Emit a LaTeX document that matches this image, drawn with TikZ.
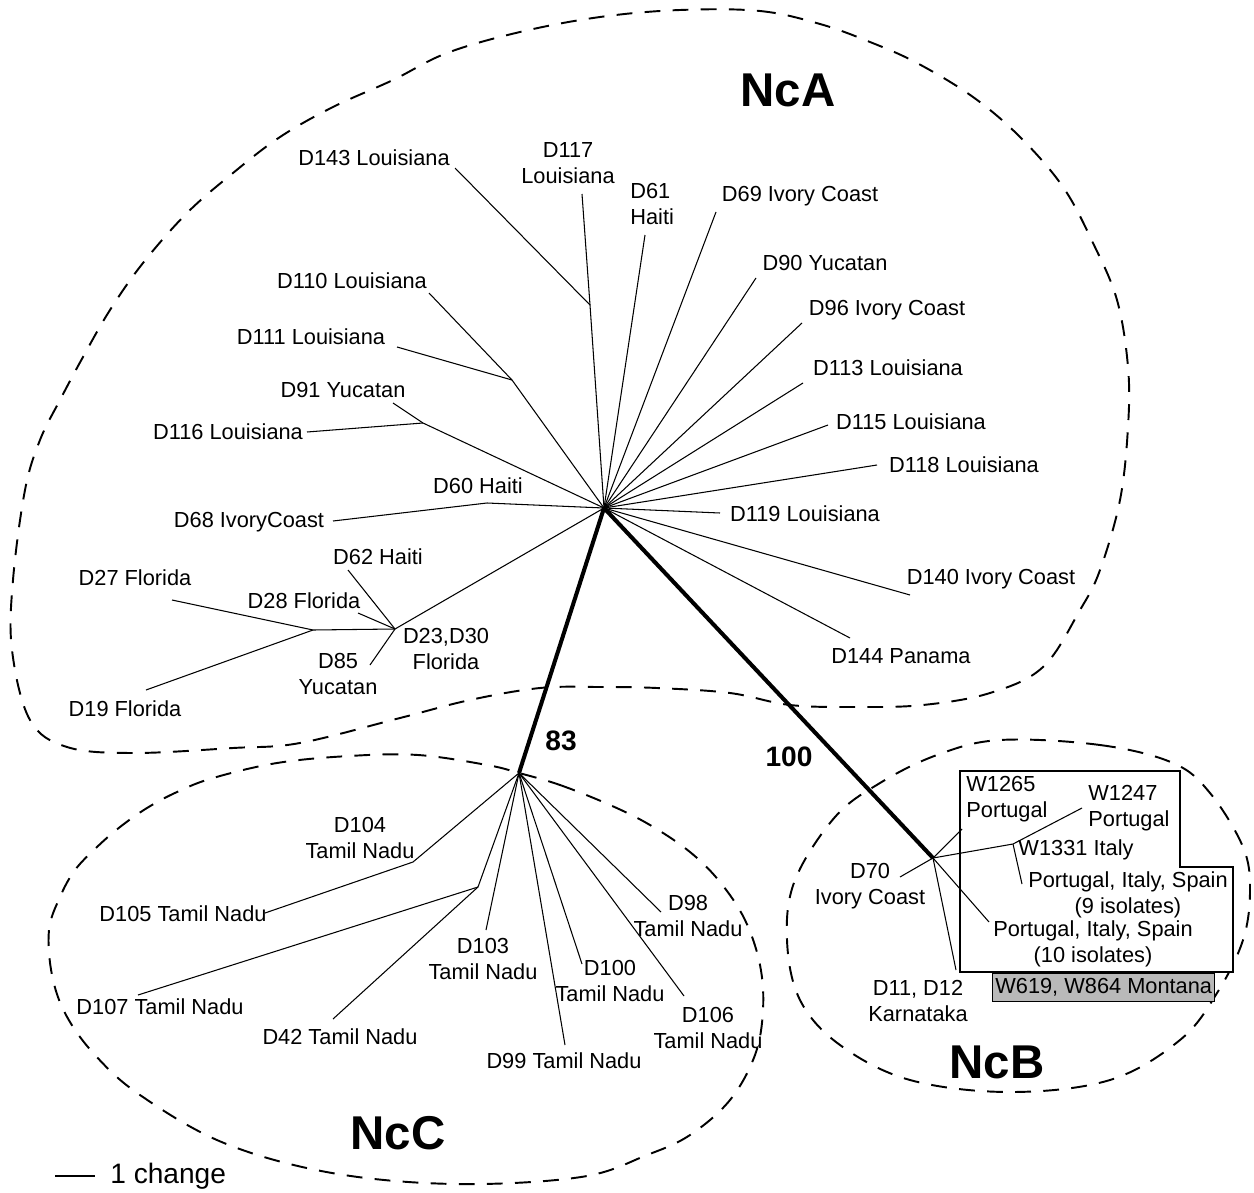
\documentclass[tikz,border=0pt]{standalone}
\usepackage{fontspec}
\setmainfont{Liberation Sans}

\begin{document}
\begin{tikzpicture}[x=0.02cm,y=-0.02cm,
	branch/.style={draw=black, line width=0.6pt},
	trunk/.style={draw=black, line width=2.3pt},
	clade/.style={draw=black, line width=1.1pt, dash pattern=on 9pt off 7pt},
	taxon/.style={font=\fontsize{12.4}{14.8}\selectfont, align=center, inner sep=0pt},
	cladename/.style={font=\fontsize{27}{30}\selectfont\bfseries, inner sep=0pt},
	support/.style={font=\fontsize{16}{18}\selectfont\bfseries, inner sep=0pt}]
	
	%Background
	\path[use as bounding box, fill=white] (0,0) rectangle (1254,1193);
	
	%Clades
	%NcA
	\draw[clade] plot[smooth cycle, tension=0.6] coordinates {(680,10) (760,11) (820,24) (870,42) (917,63) (973,97) (1020,137) (1063,187) (1093,243) (1117,300) (1128,367) (1128,427) (1120,500) (1100,570) (1080,610) (1043,667) (990,693) (923,705) (857,707) (790,705) (730,693) (657,688) (600,687) (540,688) (470,700) (400,718) (300,743) (233,748) (133,753) (67,747) (30,720) (12,650) (13,580) (25,490) (40,440) (60,400) (83,357) (110,310) (143,263) (187,213) (233,173) (280,137) (333,107) (393,80) (447,53) (520,32) (600,17)};
	\node[cladename] (nameA) at (788,90) {NcA};
	
	%NcC
	\draw[clade] plot[smooth cycle, tension=0.6] coordinates {(519,773) (560,785) (610,805) (650,825) (690,852) (720,882) (745,920) (760,965) (763,1010) (755,1055) (730,1100) (690,1135) (647,1155) (581,1177) (456,1184) (332,1173) (224,1143) (140,1095) (95,1055) (66,1015) (52,975) (49,930) (60,897) (75,870) (97,847) (120,827) (147,808) (177,792) (213,778) (277,763) (349,756) (418,755) (487,765)};
	\node[cladename] (nameC) at (398,1133) {NcC};
	
	%NcB
	\draw[clade] plot[smooth cycle, tension=0.6] coordinates {(1000,740) (1100,745) (1173,763) (1210,793) (1243,847) (1250,890) (1243,940) (1217,993) (1180,1040) (1110,1080) (1010,1092) (910,1080) (840,1045) (800,1000) (787,940) (795,880) (835,817) (880,783) (937,755)};
	\node[cladename] (nameB) at (997,1062) {NcB};
	
	%Hubs
	\coordinate (hubA) at (604,508);
	\coordinate (hubC) at (519,773);
	\coordinate (hubB) at (933,858);
	\draw[trunk] (hubA) -- (hubC);
	\draw[trunk] (hubA) -- (hubB);
	\node[support] (boot83) at (561,741) {83};
	\node[support] (boot100) at (789,757) {100};
	
	%Tree A
	\coordinate (nA1) at (590,305);
	\coordinate (nA2) at (512,380);
	\coordinate (nA3) at (423,423);
	\coordinate (nA4) at (487,503);
	\coordinate (nA5) at (395,629);
	\coordinate (nA6) at (313,630);
	
	\coordinate (tD143) at (455,168);
	\coordinate (tD117) at (582,194);
	\coordinate (tD61) at (645,235);
	\coordinate (tD69) at (716,212);
	\coordinate (tD90) at (756,278);
	\coordinate (tD96) at (802,323);
	\coordinate (tD113) at (803,383);
	\coordinate (tD115) at (828,425);
	\coordinate (tD118) at (877,465);
	\coordinate (tD119) at (720,513);
	\coordinate (tD140) at (910,595);
	\coordinate (tD144) at (850,638);
	\coordinate (tD110) at (429,293);
	\coordinate (tD111) at (397,347);
	\coordinate (tD91) at (393,403);
	\coordinate (tD116) at (307,432);
	\coordinate (tD68) at (333,521);
	\coordinate (tD62) at (348,570);
	\coordinate (tD28) at (358,613);
	\coordinate (tD85) at (370,665);
	\coordinate (tD27) at (172,600);
	\coordinate (tD19) at (146,690);
	
	\draw[branch] (hubA) -- (nA1) -- (tD117);
	\draw[branch] (nA1) -- (tD143);
	\draw[branch] (hubA) -- (nA2) -- (tD110);
	\draw[branch] (nA2) -- (tD111);
	\draw[branch] (hubA) -- (nA3) -- (tD91);
	\draw[branch] (nA3) -- (tD116);
	\draw[branch] (hubA) -- (nA4) -- (tD68);
	\draw[branch] (hubA) -- (nA5) -- (nA6) -- (tD27);
	\draw[branch] (nA6) -- (tD19);
	\draw[branch] (nA5) -- (tD62);
	\draw[branch] (nA5) -- (tD28);
	\draw[branch] (nA5) -- (tD85);
	\foreach \t in {D61,D69,D90,D96,D113,D115,D118,D119,D140,D144}
		\draw[branch] (hubA) -- (t\t);
	
	\node[taxon] (lD143) at (374,158) {D143 Louisiana};
	\node[taxon] (lD117) at (568,163) {D117\\Louisiana};
	\node[taxon, align=left, anchor=west] (lD61) at (630,204) {D61\\Haiti};
	\node[taxon] (lD69) at (800,196) {D69 Ivory Coast};
	\node[taxon] (lD90) at (825,263) {D90 Yucatan};
	\node[taxon] (lD96) at (887,310) {D96 Ivory Coast};
	\node[taxon] (lD113) at (888,368) {D113 Louisiana};
	\node[taxon] (lD115) at (911,422) {D115 Louisiana};
	\node[taxon] (lD118) at (964,465) {D118 Louisiana};
	\node[taxon] (lD119) at (805,514) {D119 Louisiana};
	\node[taxon] (lD140) at (991,579) {D140 Ivory Coast};
	\node[taxon] (lD144) at (901,656) {D144 Panama};
	\node[taxon] (lD110) at (352,281) {D110 Louisiana};
	\node[taxon] (lD111) at (311,337) {D111 Louisiana};
	\node[taxon] (lD91) at (343,390) {D91 Yucatan};
	\node[taxon] (lD116) at (228,432) {D116 Louisiana};
	\node[taxon] (lD60) at (478,486) {D60 Haiti};
	\node[taxon] (lD68) at (249,522) {D68 IvoryCoast};
	\node[taxon] (lD62) at (378,557) {D62 Haiti};
	\node[taxon] (lD27) at (135,578) {D27 Florida};
	\node[taxon] (lD28) at (304,601) {D28 Florida};
	\node[taxon] (lD85) at (338,674) {D85\\Yucatan};
	\node[taxon] (lD23) at (446,649) {D23,D30\\Florida};
	\node[taxon] (lD19) at (125,709) {D19 Florida};
	
	%Tree C
	\coordinate (nC1) at (413,862);
	\coordinate (nC2) at (478,887);
	
	\coordinate (tD105) at (265,913);
	\coordinate (tD107) at (138,995);
	\coordinate (tD42) at (333,1019);
	\coordinate (tD103) at (486,930);
	\coordinate (tD99) at (565,1045);
	\coordinate (tD100) at (582,964);
	\coordinate (tD106) at (684,996);
	\coordinate (tD98) at (661,912);
	
	\draw[branch] (hubC) -- (nC1) -- (tD105);
	\draw[branch] (hubC) -- (nC2) -- (tD107);
	\draw[branch] (nC2) -- (tD42);
	\foreach \t in {D103,D99,D100,D106,D98}
		\draw[branch] (hubC) -- (t\t);
	
	\node[taxon] (lD104) at (360,838) {D104\\Tamil Nadu};
	\node[taxon] (lD105) at (183,914) {D105 Tamil Nadu};
	\node[taxon] (lD107) at (160,1007) {D107 Tamil Nadu};
	\node[taxon] (lD42) at (340,1037) {D42 Tamil Nadu};
	\node[taxon] (lD103) at (483,959) {D103\\Tamil Nadu};
	\node[taxon] (lD99) at (564,1061) {D99 Tamil Nadu};
	\node[taxon] (lD100) at (610,981) {D100\\Tamil Nadu};
	\node[taxon] (lD106) at (708,1028) {D106\\Tamil Nadu};
	\node[taxon] (lD98) at (688,916) {D98\\Tamil Nadu};
	
	%Tree B
	\draw[thick, draw=black, fill=white] (960,771) -- (1180,771) -- (1180,867) -- (1233,867) -- (1233,972) -- (960,972) -- cycle;
	\node[taxon, draw=black, thick, fill=gray!55, minimum width=222*0.02cm, minimum height=28*0.02cm, anchor=north west] (montana) at (992,973) {W619, W864 Montana};
	
	\coordinate (nB1) at (1013,844);
	
	\coordinate (tD70) at (900,877);
	\coordinate (tW1265) at (962,829);
	\coordinate (tW1247) at (1082,808);
	\coordinate (tPIS9) at (1022,884);
	\coordinate (tPIS10) at (989,922);
	\coordinate (tD11) at (956,970);
	
	\draw[branch] (hubB) -- (nB1) -- (tW1247);
	\draw[branch] (nB1) -- (tPIS9);
	\foreach \t in {D70,W1265,PIS10,D11}
		\draw[branch] (hubB) -- (t\t);
	
	\node[taxon] (lD70) at (870,886) {D70\\Ivory Coast};
	\node[taxon, align=left, anchor=west] (lW1265) at (966,799) {W1265\\Portugal};
	\node[taxon, align=left, anchor=west] (lW1247) at (1088,808) {W1247\\Portugal};
	\node[taxon] (lW1331) at (1076,850) {W1331 Italy};
	\node[taxon] (lPIS9) at (1128,895) {Portugal, Italy, Spain\\(9 isolates)};
	\node[taxon] (lPIS10) at (1093,944) {Portugal, Italy, Spain\\(10 isolates)};
	\node[taxon] (lD11) at (918,1001) {D11, D12\\Karnataka};
	
	%Scale
	\coordinate (scaleL) at (55,1176);
	\coordinate (scaleR) at (95,1176);
	\draw[branch] (scaleL) -- (scaleR);
	\node[anchor=base west, inner sep=0pt, font=\fontsize{16}{18}\selectfont] (scalelabel) at (110,1183) {1 change};
	
\end{tikzpicture}
\end{document}
